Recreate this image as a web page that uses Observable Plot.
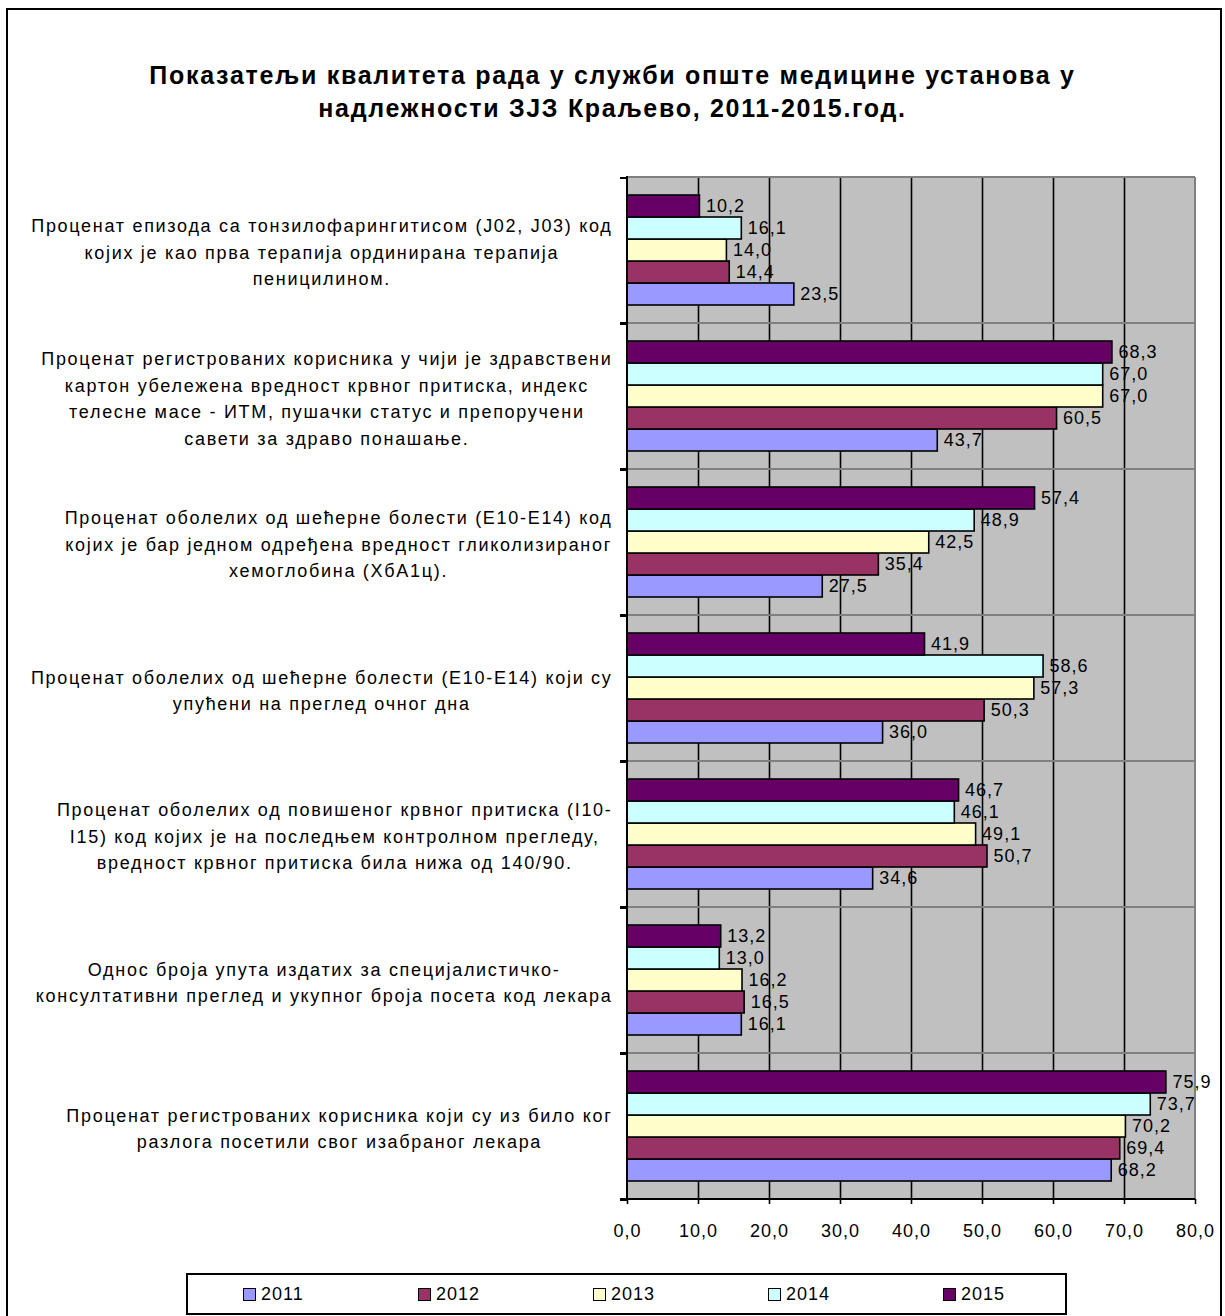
<!DOCTYPE html>
<html><head><meta charset="utf-8">
<script src="https://cdn.jsdelivr.net/npm/d3@7"></script>
<script src="https://cdn.jsdelivr.net/npm/@observablehq/plot@0.6"></script>
<style>
body{margin:0;background:#fff;font-family:"Liberation Sans",Arial,sans-serif;}
#wrap{position:relative;width:1225px;height:1316px;overflow:hidden;background:#fff}
#frame{position:absolute;left:6px;top:8px;width:1216px;height:1330px;border:2px solid #000;box-sizing:border-box}
#title{position:absolute;left:0;width:1225px;top:59px;text-align:center;font-weight:bold;font-size:25px;line-height:33px;letter-spacing:1.7px;color:#000}
#chart{position:absolute;left:0;top:0}
#chart svg text{letter-spacing:1px}
#chart svg .cat text, #chart svg g.cat{letter-spacing:1.7px}
#legend{position:absolute;left:186px;top:1273px;width:881px;height:42px;border:2px solid #000;box-sizing:border-box;background:#fff}
.li{position:absolute;top:0;height:38px;display:flex;align-items:center;font-size:18px;letter-spacing:1px;color:#000}
.sw{width:11px;height:11px;border:1.5px solid #000;margin-right:5px}
</style>
</head><body>
<div id="wrap">
  <div id="frame"></div>
  <div id="title">Показатељи квалитета рада у служби опште медицине установа у<br>надлежности ЗЈЗ Краљево, 2011-2015.год.</div>
  <div id="chart"></div>
  <div id="legend"></div>
</div>
<script>
const categories = [
  "Проценат епизода са тонзилофарингитисом (Ј02, Ј03) код\nкојих је као прва терапија ординирана терапија\nпеницилином.",
  "Проценат регистрованих корисника у чији је здравствени\nкартон убележена вредност крвног притиска, индекс\nтелесне масе - ИТМ, пушачки статус и препоручени\nсавети за здраво понашање.",
  "Проценат оболелих од шећерне болести (Е10-Е14) код\nкојих је бар једном одређена вредност гликолизираног\nхемоглобина (ХбА1ц).",
  "Проценат оболелих од шећерне болести (Е10-Е14) који су\nупућени на преглед очног дна",
  "Проценат оболелих од повишеног крвног притиска (I10-\nI15) код којих је на последњем контролном прегледу,\nвредност крвног притиска била нижа од 140/90.",
  "Однос броја упута издатих за специјалистичко-\nконсултативни преглед и укупног броја посета код лекара",
  "Проценат регистрованих корисника који су из било ког\nразлога посетили свог изабраног лекара"
];
const years = ["2011", "2012", "2013", "2014", "2015"];
const colors = ["#9999ff", "#993366", "#ffffcc", "#ccffff", "#660066"];
const v2011 = [23.5, 43.7, 27.5, 36.0, 34.6, 16.1, 68.2];
const v2012 = [14.4, 60.5, 35.4, 50.3, 50.7, 16.5, 69.4];
const v2013 = [14.0, 67.0, 42.5, 57.3, 49.1, 16.2, 70.2];
const v2014 = [16.1, 67.0, 48.9, 58.6, 46.1, 13.0, 73.7];
const v2015 = [10.2, 68.3, 57.4, 41.9, 46.7, 13.2, 75.9];
const xTicks = [0, 10, 20, 30, 40, 50, 60, 70, 80];

const series = [v2011, v2012, v2013, v2014, v2015];
const rows = [];
categories.forEach((c, i) => years.forEach((y, j) => rows.push({category: c, year: y, value: series[j][i]})));
const fmt = v => v.toFixed(1).replace(".", ",");

const FONT = 18, CAT_LS = 1.7;
const ctx = document.createElement("canvas").getContext("2d");
ctx.font = `${FONT}px "Liberation Sans", Arial, sans-serif`;
const blockWidth = c => d3.max(c.split("\n"), l => ctx.measureText(l).width + l.length * CAT_LS);

const marginLeft = 627;
const labelRight = 612;

const background = (index, {x}, values, dims) => {
  const g = d3.create("svg:g");
  g.append("rect")
    .attr("x", x(xTicks[0])).attr("y", dims.marginTop)
    .attr("width", x(xTicks[xTicks.length - 1]) - x(xTicks[0]))
    .attr("height", dims.height - dims.marginTop - dims.marginBottom)
    .attr("fill", "#c0c0c0");
  return g.node();
};

const decorations = (index, {x, fy}, values, dims) => {
  const g = d3.create("svg:g");
  const x0 = x(xTicks[0]), x1 = x(xTicks[xTicks.length - 1]);
  const top = dims.marginTop, bottom = dims.height - dims.marginBottom;
  g.append("line").attr("x1", x0).attr("x2", x1).attr("y1", top).attr("y2", top).attr("stroke", "#808080").attr("stroke-width", 2);
  g.append("line").attr("x1", x1).attr("x2", x1).attr("y1", top).attr("y2", bottom).attr("stroke", "#808080").attr("stroke-width", 2);
  g.append("line").attr("x1", x0).attr("x2", x0).attr("y1", top - 1).attr("y2", bottom).attr("stroke", "#000").attr("stroke-width", 2);
  g.append("line").attr("x1", x0 - 7).attr("x2", x1).attr("y1", bottom).attr("y2", bottom).attr("stroke", "#000").attr("stroke-width", 2);
  for (const c of categories) {
    const yy = fy(c);
    g.append("line").attr("x1", x0 - 7).attr("x2", x0).attr("y1", yy).attr("y2", yy).attr("stroke", "#000").attr("stroke-width", 2);
  }
  return g.node();
};

const labelMarks = categories.map(c => Plot.text([c], {
  fy: d => d, text: d => d, frameAnchor: "left", textAnchor: "middle",
  dx: -(marginLeft - labelRight) - blockWidth(c) / 2,
  fontSize: FONT, lineHeight: 26.5 / FONT, fill: "#000", className: "cat"
}));

const chart = Plot.plot({
  width: 1225, height: 1260,
  marginLeft, marginRight: 30, marginTop: 176, marginBottom: 60,
  style: {fontFamily: '"Liberation Sans", Arial, sans-serif', background: "transparent", color: "#000"},
  x: {domain: [0, 80], axis: null, label: null},
  y: {domain: years.slice().reverse(), paddingInner: 0, paddingOuter: 0.74, axis: null},
  fy: {domain: categories, padding: 0, axis: null},
  color: {domain: years, range: colors},
  marks: [
    background,
    Plot.gridX(xTicks.slice(1, -1), {stroke: "#000", strokeOpacity: 1, strokeWidth: 1.6}),
    Plot.barX(rows, {x: "value", y: "year", fy: "category", fill: "year", stroke: "#000", strokeWidth: 1.6}),
    Plot.text(rows, {x: "value", y: "year", fy: "category", text: d => fmt(d.value), textAnchor: "start", dx: 6, fontSize: FONT, fill: "#000"}),
    ...labelMarks,
    decorations,
    Plot.axisX(xTicks, {tickSize: 5, tickPadding: 20, tickFormat: fmt, fontSize: FONT, stroke: "#000", strokeWidth: 1.6, label: null})
  ]
});
document.getElementById("chart").append(chart);

const legend = d3.select("#legend");
years.forEach((y, i) => {
  const item = legend.append("div").attr("class", "li").style("left", (55 + i * 175) + "px");
  item.append("div").attr("class", "sw").style("background", colors[i]);
  item.append("span").text(y);
});
</script>
</body></html>
